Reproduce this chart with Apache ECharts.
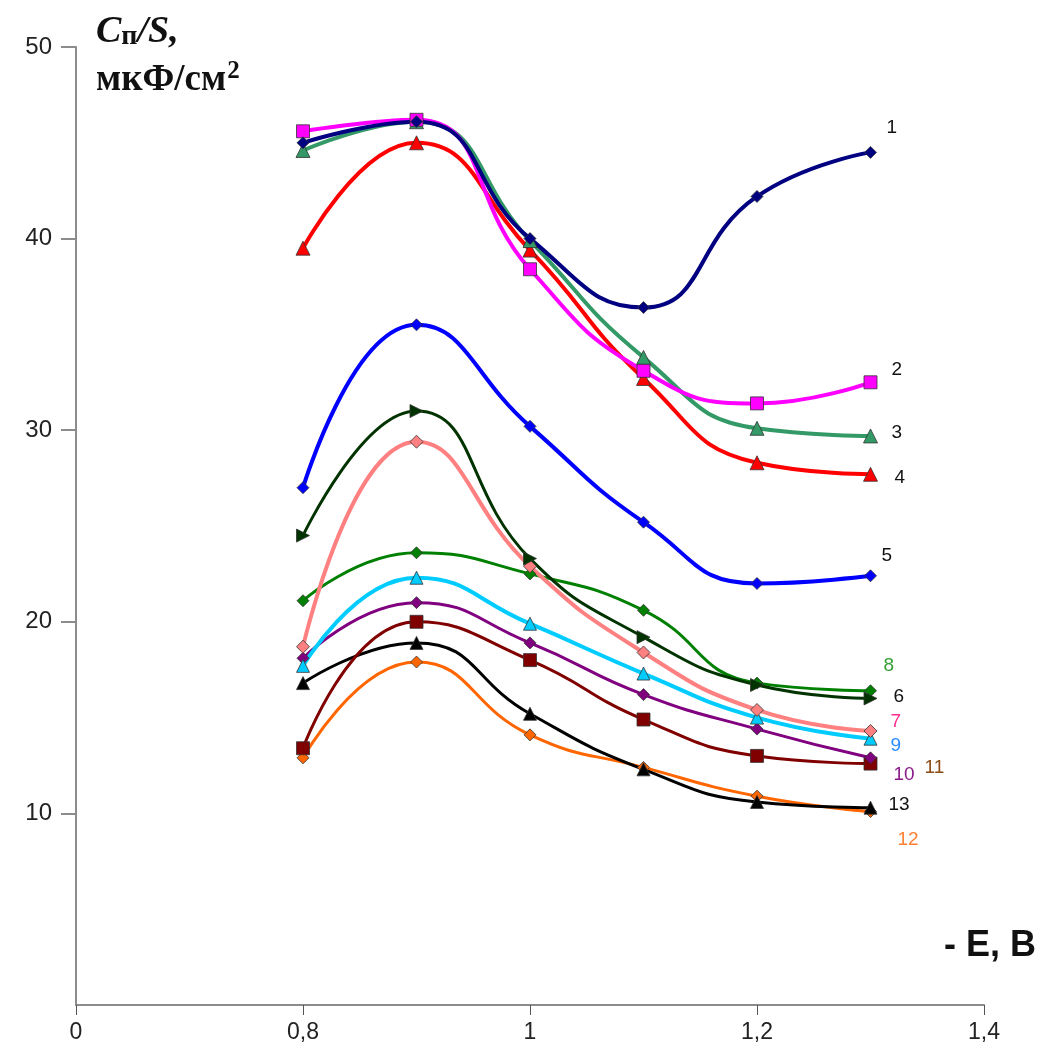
<!DOCTYPE html>
<html>
<head>
<meta charset="utf-8">
<script src="https://cdn.jsdelivr.net/npm/echarts@6/dist/echarts.min.js"></script>
<style>
  html, body { margin: 0; padding: 0; background: #ffffff; }
  #chart { width: 1042px; height: 1055px; }
</style>
</head>
<body>
<div id="chart"></div>
<script>
// Potentials, -E (V)
const potentials = [0.8, 0.9, 1.0, 1.1, 1.2, 1.3];

// Differential capacitance Cп/S (µF/cm²) for curves 1–13
const curve1  = [45.0, 46.1, 40.0, 36.4, 42.2, 44.5];
const curve2  = [45.6, 46.2, 38.4, 33.1, 31.4, 32.5];
const curve3  = [44.6, 46.1, 39.9, 33.8, 30.1, 29.7];
const curve4  = [39.5, 45.0, 39.4, 32.7, 28.3, 27.7];
const curve5  = [27.0, 35.5, 30.2, 25.2, 22.0, 22.4];
const curve6  = [24.5, 31.0, 23.3, 19.2, 16.7, 16.0];
const curve7  = [18.7, 29.4, 22.9, 18.4, 15.4, 14.3];
const curve8  = [21.1, 23.6, 22.5, 20.6, 16.8, 16.4];
const curve9  = [17.7, 22.3, 19.9, 17.3, 15.0, 13.9];
const curve10 = [18.1, 21.0, 18.9, 16.2, 14.4, 12.9];
const curve11 = [13.4, 20.0, 18.0, 14.9, 13.0, 12.6];
const curve12 = [12.9, 17.9, 14.1, 12.4, 10.9, 10.1];
const curve13 = [16.8, 18.9, 15.2, 12.3, 10.6, 10.3];

// Axis tick values and labels
const yTicks = [10, 20, 30, 40, 50];
const yTickLabels = ['10', '20', '30', '40', '50'];
const xTickLabels = ['0', '0,8', '1', '1,2', '1,4'];

// Curve styling: [name, values, line colour, label colour, symbol, symbol size, rotate, line width, label offset]
const curves = [
  ['12', curve12, '#ff6600', '#ff7f33', 'diamond', 12, 0, 3, [19, 28]],
  ['13', curve13, '#000000', '#111111', 'triangle', 13, 0, 3, [10, -3]],
  ['11', curve11, '#800000', '#8b4a12', 'rect', 13, 0, 3, [46, 4]],
  ['10', curve10, '#800080', '#8a1a8a', 'diamond', 12, 0, 3, [15, 17]],
  ['9',  curve9,  '#00ccff', '#2a8cff', 'triangle', 13, 0, 4, [12, 7]],
  ['8',  curve8,  '#008000', '#33a033', 'diamond', 12, 0, 3, [5, -25]],
  ['7',  curve7,  '#ff8080', '#ff2f8f', 'diamond', 13, 0, 4, [12, -9]],
  ['6',  curve6,  '#003300', '#111111', 'triangle', 13, -90, 3, [15, -2]],
  ['5',  curve5,  '#0000ff', '#111111', 'diamond', 12, 0, 4, [3, -20]],
  ['4',  curve4,  '#ff0000', '#111111', 'triangle', 14, 0, 4, [16, 3]],
  ['3',  curve3,  '#339966', '#111111', 'triangle', 14, 0, 4, [13, -3]],
  ['2',  curve2,  '#ff00ff', '#111111', 'rect', 13, 0, 4, [13, -13]],
  ['1',  curve1,  '#000080', '#111111', 'diamond', 12, 0, 4, [8, -25]]
];

const series = curves.map(([name, values, color, labelColor, symbol, size, rotate, width, offset]) => ({
  name: name,
  type: 'line',
  smooth: 0.5,
  data: values.map((v, i) => [potentials[i], v]),
  symbol: symbol,
  symbolSize: size,
  symbolRotate: rotate,
  showAllSymbol: true,
  lineStyle: { color: color, width: width },
  itemStyle: { color: color, borderColor: '#333333', borderWidth: 0.8 },
  emphasis: { disabled: true },
  endLabel: {
    show: true,
    formatter: name,
    offset: offset,
    color: labelColor,
    fontFamily: 'Liberation Sans, Arial, sans-serif',
    fontSize: 19
  },
  z: 2
}));

const chart = echarts.init(document.getElementById('chart'));
chart.setOption({
  animation: false,
  backgroundColor: '#ffffff',
  grid: { left: 76, right: 58, top: 47, bottom: 50, containLabel: false },
  xAxis: {
    type: 'value',
    min: 0.6,
    max: 1.4,
    interval: 0.2,
    axisLine: { show: true, lineStyle: { color: '#8c8c8c', width: 2 } },
    axisTick: { show: true, length: 10, lineStyle: { color: '#555555', width: 1 } },
    splitLine: { show: false },
    axisLabel: {
      margin: 16,
      color: '#222222',
      fontFamily: 'Liberation Sans, Arial, sans-serif',
      fontSize: 23,
      formatter: v => xTickLabels[Math.round((v - 0.6) / 0.2)] || ''
    }
  },
  yAxis: {
    type: 'value',
    min: 0,
    max: 50,
    interval: 10,
    axisLine: { show: true, lineStyle: { color: '#8c8c8c', width: 2 } },
    axisTick: { show: true, length: 15, customValues: yTicks, lineStyle: { color: '#8c8c8c', width: 2 } },
    splitLine: { show: false },
    axisLabel: {
      margin: 24,
      color: '#222222',
      fontFamily: 'Liberation Sans, Arial, sans-serif',
      fontSize: 24,
      formatter: v => (v === 0 ? '' : yTickLabels[v / 10 - 1])
    }
  },
  graphic: [
    {
      type: 'text',
      left: 96,
      top: 13,
      style: {
        text: '{ci|C}{sub|п}{ci|/S,}',
        rich: {
          ci: { fontFamily: 'Liberation Serif, Times New Roman, serif', fontStyle: 'italic', fontWeight: 'bold', fontSize: 38, fill: '#111111' },
          sub: { fontFamily: 'Liberation Serif, Times New Roman, serif', fontWeight: 'bold', fontSize: 28, fill: '#111111', padding: [10, 0, 0, 0] }
        }
      }
    },
    {
      type: 'text',
      left: 96,
      top: 59,
      style: {
        text: '{t|мкФ/см}{sup|2}',
        rich: {
          t: { fontFamily: 'Liberation Serif, Times New Roman, serif', fontWeight: 'bold', fontSize: 37, fill: '#111111' },
          sup: { fontFamily: 'Liberation Serif, Times New Roman, serif', fontWeight: 'bold', fontSize: 25, fill: '#111111', padding: [0, 0, 18, 1] }
        }
      }
    },
    {
      type: 'text',
      left: 944,
      top: 928,
      style: {
        text: '- E, В',
        fontFamily: 'Liberation Sans, Arial, sans-serif',
        fontWeight: 'bold',
        fontSize: 36,
        fill: '#111111'
      }
    }
  ],
  series: series
});
</script>
</body>
</html>
